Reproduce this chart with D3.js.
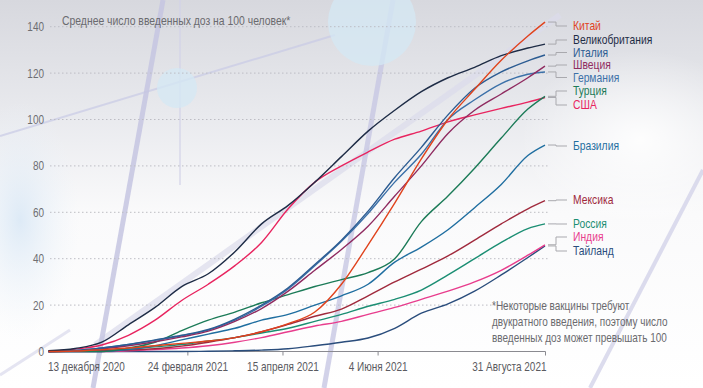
<!DOCTYPE html>
<html><head><meta charset="utf-8">
<script src="https://cdn.jsdelivr.net/npm/d3@7/dist/d3.min.js"></script>
<style>
html,body{margin:0;padding:0;background:#fff;}
svg{display:block;}
text{font-family:"Liberation Sans",Arial,"DejaVu Sans",sans-serif;}
</style></head>
<body>
<svg id="chart" width="703" height="388"></svg>
<script>
// ---------- DATA ----------
const dates = ["2020-12-13","2020-12-27","2021-01-10","2021-01-24","2021-02-07","2021-02-21","2021-03-07","2021-03-21","2021-04-04","2021-04-18","2021-05-02","2021-05-16","2021-05-30","2021-06-13","2021-06-27","2021-07-11","2021-07-25","2021-08-08","2021-08-22","2021-08-31"];
const countries = ["Китай","Великобритания","Италия","Швеция","Германия","Турция","США","Бразилия","Мексика","Россия","Индия","Тайланд"];
const china    = [0,0.2,0.8,1.5,2.5,3.5,4.5,6,8.5,12,17,29,46,64,83,100,113,125.5,136,142];
const uk       = [0.3,1.3,4,11.5,19,28,33.5,43,55,63,73,84,95,104,112,118,122.5,127.5,130.8,132.5];
const italy    = [0,0.4,1.5,3,5,7,9.5,14,20,27.5,37.5,48,60.5,75,88,102,113.5,120.5,125.3,127.8];
const sweden   = [0,0.3,1.2,2.5,4.2,6.3,8.8,13,18.5,26,35,44,54,67,80,94,104,111,118,123];
const germany  = [0,0.4,1.5,3,4.8,6.8,9.2,13.5,19.5,27,37,47.5,59.5,73,85,100,108.5,115.5,119.5,120.5];
const turkey   = [0,0,0,1.5,4,9,13.5,17,21,24.5,28,31,34,40,56,67,79,92,104.5,110];
const usa      = [0,1,2.8,7,13.5,22,29,37,47,61.5,73,80,86,91.5,95,99,102,104.8,107.5,109.5];
const brazil   = [0,0,0,0.8,2.5,5,7.5,10,13.5,16,20,24,29,38.5,45,52.5,62,72,84.5,89];
const mexico   = [0,0.1,0.3,0.6,1.2,2.3,4,6,8.5,11.7,15.2,18.3,24,30,35.5,41.2,48,55,61.5,65];
const russia   = [0,0.2,0.5,1,2,3,4.5,6,8,10,13,16,19.5,22.5,26.5,33,40,47,53,55];
const india    = [0,0,0,0.3,0.8,1.5,2.5,4,6,8.5,11,13,16,19,22.5,26,30,35,41.5,46];
const thailand = [0,0,0,0,0,0,0.1,0.3,0.6,1.2,2.5,4,5.8,10,16.5,20.5,26,33,40.5,45.5];
const yTicks = [0,20,40,60,80,100,120,140];
const xTickDates = ["2020-12-13","2021-02-24","2021-04-15","2021-06-04","2021-08-31"];
const xTickLabels = ["13 декабря 2020","24 февраля 2021","15 апреля 2021","4 Июня 2021","31 Августа 2021"];
const title = "Среднее число введенных доз на 100 человек*";
const footnote = ["*Некоторые вакцины требуют","двукратного введения, поэтому число","введенных доз может превышать 100"];

// ---------- STYLE / LAYOUT ----------
const seriesValues = [china,uk,italy,sweden,germany,turkey,usa,brazil,mexico,russia,india,thailand];
const colors = ["#e0431d","#1e2c46","#2c5c92","#8f2b60","#3b70a8","#1c7b58","#e8245f","#1f6ea0","#a02a3d","#1b8e73","#e83d8d","#2a4d7c"];
const labelY = [26,40,52.5,65,77.5,91,105,146,200,224,237,251];
const NARROW = 0.8;
// narrow type: draw each text at its anchor and squeeze it horizontally
function placeNarrow(sel, k){
  sel.each(function(){
    const t = d3.select(this);
    const px = +t.attr("x") || 0, py = +t.attr("y") || 0;
    t.attr("x",0).attr("y",0).attr("transform",`translate(${px},${py}) scale(${k},1)`);
  });
}

const svg = d3.select("#chart");
const W = 703, H = 388;
const parse = d3.timeParse("%Y-%m-%d");
const x = d3.scaleTime().domain([parse("2020-12-13"), parse("2021-08-31")]).range([48.5, 545]);
const y = d3.scaleLinear().domain([0,140]).range([351.5, 26.7]);

// background
const defs = svg.append("defs");
const bg = defs.append("linearGradient").attr("id","bg").attr("x1",0).attr("y1",0).attr("x2",0).attr("y2",1);
bg.append("stop").attr("offset","0%").attr("stop-color","#d7d8de");
bg.append("stop").attr("offset","30%").attr("stop-color","#e9eaee");
bg.append("stop").attr("offset","55%").attr("stop-color","#fafafb");
bg.append("stop").attr("offset","100%").attr("stop-color","#ffffff");
svg.append("rect").attr("width",W).attr("height",H).attr("fill","url(#bg)");
const glow = defs.append("radialGradient").attr("id","glow");
glow.append("stop").attr("offset","0%").attr("stop-color","#d6e6f5").attr("stop-opacity",0.8);
glow.append("stop").attr("offset","100%").attr("stop-color","#eef4fa").attr("stop-opacity",0);
svg.append("ellipse").attr("cx",20).attr("cy",220).attr("rx",60).attr("ry",120).attr("fill","url(#glow)");
const glow2 = defs.append("radialGradient").attr("id","glow2");
glow2.append("stop").attr("offset","0%").attr("stop-color","#ffffff").attr("stop-opacity",0.9);
glow2.append("stop").attr("offset","100%").attr("stop-color","#ffffff").attr("stop-opacity",0);
svg.append("ellipse").attr("cx",640).attr("cy",140).attr("rx",120).attr("ry",90).attr("fill","url(#glow2)");

// decorations
const deco = svg.append("g");
deco.append("line").attr("x1",95).attr("y1",345).attr("x2",560).attr("y2",15).attr("stroke","#dcdcec").attr("stroke-width",6).attr("opacity",0.7);
deco.append("line").attr("x1",0).attr("y1",136).attr("x2",335).attr("y2",35).attr("stroke","#c9cbe6").attr("stroke-width",2).attr("opacity",0.7);
deco.append("line").attr("x1",163).attr("y1",0).attr("x2",93).attr("y2",388).attr("stroke","#c6c6e2").attr("stroke-width",5).attr("opacity",0.85);
deco.append("line").attr("x1",180).attr("y1",0).attr("x2",180).attr("y2",185).attr("stroke","#d2d2e8").attr("stroke-width",1.2);
deco.append("line").attr("x1",393).attr("y1",0).attr("x2",324).attr("y2",388).attr("stroke","#c8c8e4").attr("stroke-width",5).attr("opacity",0.8);
deco.append("line").attr("x1",590).attr("y1",388).attr("x2",703).attr("y2",170).attr("stroke","#d4d4ea").attr("stroke-width",4).attr("opacity",0.8);
deco.append("line").attr("x1",0).attr("y1",375).attr("x2",70).attr("y2",330).attr("stroke","#d4d4ea").attr("stroke-width",3).attr("opacity",0.6);
deco.append("circle").attr("cx",372).attr("cy",22).attr("r",44).attr("fill","#d4e8f4").attr("opacity",0.75);
deco.append("circle").attr("cx",177).attr("cy",88).attr("r",20).attr("fill","#d4e8f4").attr("opacity",0.75);

// gridlines
const grid = svg.append("g");
grid.selectAll("line").data(yTicks.filter(d=>d>0)).join("line")
  .attr("x1",50).attr("x2",548).attr("y1",d=>y(d)).attr("y2",d=>y(d))
  .attr("stroke","#bdbdc4").attr("stroke-width",1).attr("stroke-dasharray","1.5,2.5");

// y labels
svg.append("g").selectAll("text").data(yTicks).join("text")
  .attr("x",44).attr("y",d=>y(d)+4.4).attr("text-anchor","end")
  .attr("font-size",12.5).attr("fill","#6e6e72").text(d=>d).call(placeNarrow, NARROW);

// x axis
const xAxis = d3.axisBottom(x).tickValues(xTickDates.map(parse)).tickSize(4)
  .tickFormat((d,i)=>xTickLabels[i]);
const gx = svg.append("g").attr("transform","translate(0,351.5)").call(xAxis);
gx.select(".domain").attr("stroke","#8a8a90").attr("d","M48.5,0H545.5");
gx.selectAll(".tick line").attr("stroke","#8a8a90");
gx.selectAll(".tick text").attr("fill","#5a5a60").attr("font-size",12.5)
  .attr("font-family","Liberation Sans, Arial, sans-serif").attr("dy",null).attr("y",19.5);
gx.selectAll(".tick").filter((d,i)=>i===0).select("text").attr("text-anchor","start").attr("x",-1);
gx.selectAll(".tick").filter((d,i)=>i===0).select("line").remove();
gx.selectAll(".tick").filter((d,i)=>i===xTickDates.length-1).select("text").attr("text-anchor","end").attr("x",1);
gx.selectAll(".tick text").call(placeNarrow, NARROW);

// title
svg.append("text").attr("x",62).attr("y",25).attr("font-size",13).attr("fill","#6a6a6e").text(title).call(placeNarrow, NARROW);

// lines
const line = d3.line().x((d,i)=>x(parse(dates[i]))).y(d=>y(d)).curve(d3.curveMonotoneX);
const order = [11,10,9,8,7,6,5,4,3,2,1,0];
svg.append("g").selectAll("path").data(order).join("path")
  .attr("d",k=>line(seriesValues[k])).attr("fill","none")
  .attr("stroke",k=>colors[k]).attr("stroke-width",1.4).attr("stroke-linejoin","round");

// leaders + labels
const xEnd = x(parse(dates[dates.length-1]));
svg.append("g").selectAll("path").data(countries).join("path")
  .attr("d",(c,i)=>{const ye=y(seriesValues[i][seriesValues[i].length-1]);
     return `M${xEnd+3},${ye}H556V${labelY[i]}H567`;})
  .attr("fill","none").attr("stroke","#a9a9ae").attr("stroke-width",1);
svg.append("g").selectAll("text").data(countries).join("text")
  .attr("x",573).attr("y",(c,i)=>labelY[i]+4.2).attr("font-size",12)
  .attr("fill",(c,i)=>colors[i]).text(c=>c).call(placeNarrow, 0.86);

// footnote
svg.append("g").selectAll("text").data(footnote).join("text")
  .attr("x",492).attr("y",(d,i)=>310+i*16).attr("font-size",12.5).attr("fill","#6a6a6e").text(d=>d).call(placeNarrow, NARROW);
</script>
</body></html>
